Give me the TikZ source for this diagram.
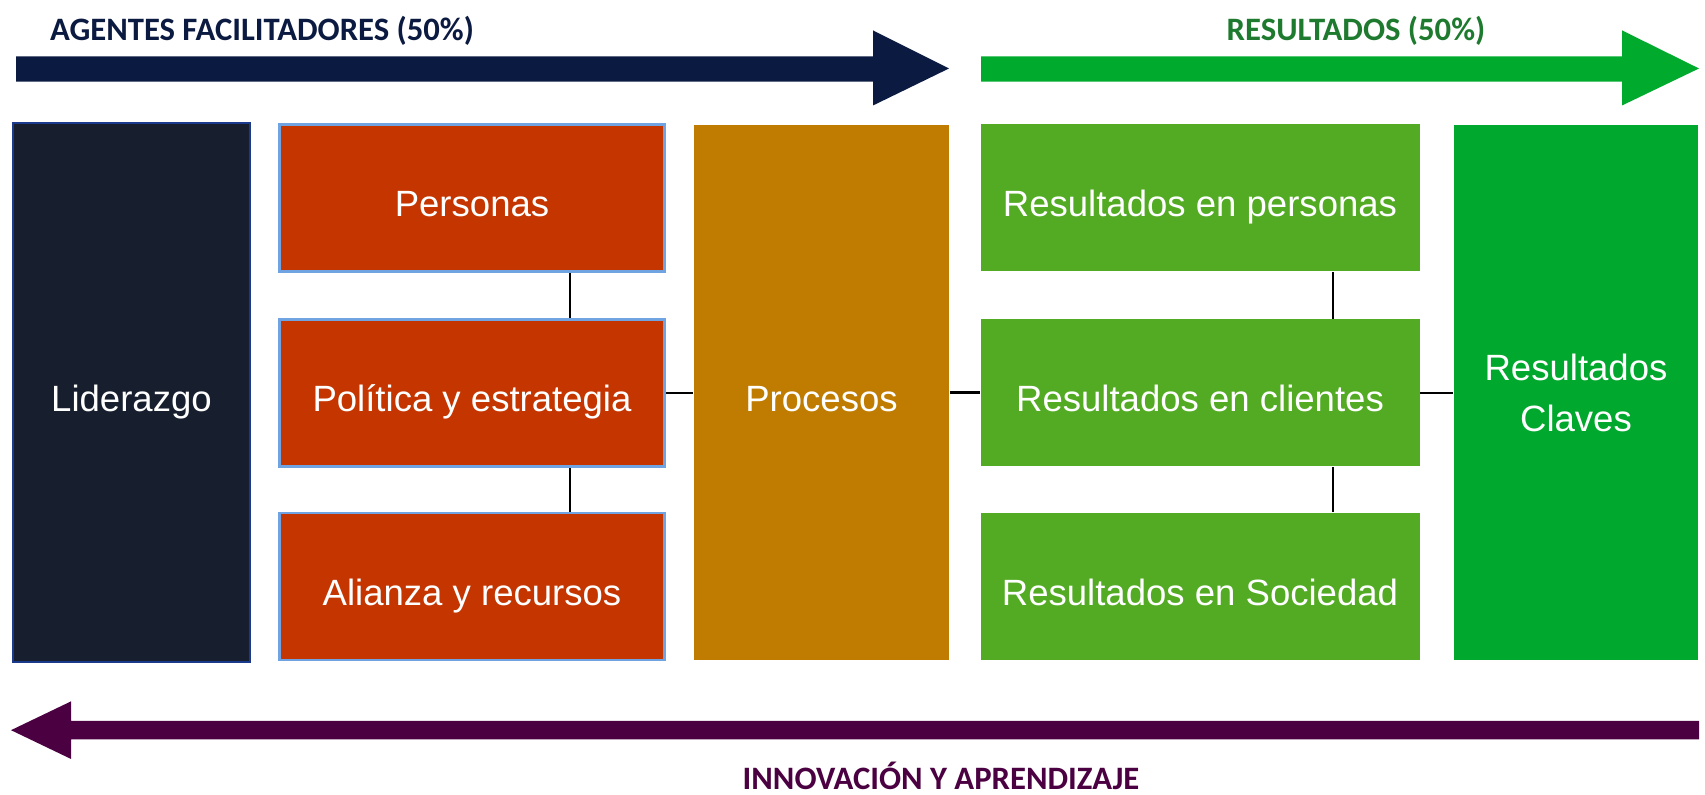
\documentclass[tikz,border=0pt]{standalone}
\usepackage{fontspec}
\setmainfont{Liberation Sans}
\newfontfamily\capfont{Carlito}
\usetikzlibrary{positioning}
\definecolor{navy}{HTML}{0B1A40}
\definecolor{lidfill}{HTML}{171E2E}
\definecolor{lidedge}{HTML}{1B3A8C}
\definecolor{redfill}{HTML}{C43500}
\definecolor{rededge}{HTML}{6FA3E2}
\definecolor{goldfill}{HTML}{BF7C00}
\definecolor{leaffill}{HTML}{52AB22}
\definecolor{keyfill}{HTML}{00A82D}
\definecolor{arrgreen}{HTML}{00AA2C}
\definecolor{txtgreen}{HTML}{1E7A2E}
\definecolor{plum}{HTML}{4B0042}
\begin{document}
\begin{tikzpicture}[every node/.style={rectangle, inner sep=0pt, text=white, font=\fontsize{10.4}{12.5}\selectfont},
    box/.style={minimum width=#1, text height=10.6pt, text depth=0pt},
    row/.style={minimum height=1.47cm},
    col/.style={minimum height=5.35cm},
    caption/.style={font=\capfont\bfseries\fontsize{9.3}{11}\selectfont}]
      \useasboundingbox (0,0) rectangle (17.05,7.95);
      % big arrows
      \fill[navy] (0.16,7.385) -- (8.73,7.385) -- (8.73,7.646) -- (9.49,7.265) -- (8.73,6.895) -- (8.73,7.134) -- (0.16,7.134) -- cycle;
      \fill[arrgreen] (9.81,7.385) -- (16.22,7.385) -- (16.22,7.646) -- (16.99,7.265) -- (16.22,6.895) -- (16.22,7.134) -- (9.81,7.134) -- cycle;
      \fill[plum] (16.99,0.74) -- (0.71,0.74) -- (0.71,0.936) -- (0.11,0.648) -- (0.71,0.36) -- (0.71,0.556) -- (16.99,0.556) -- cycle;
      \node (agentes) at (2.62,7.646) [caption, text=navy] {AGENTES FACILITADORES (50\%)};
      \node (result) at (13.56,7.646) [caption, text=txtgreen] {RESULTADOS (50\%)};
      \node (innov) at (9.41,0.19) [caption, text=plum] {INNOVACIÓN Y APRENDIZAJE};
      % criteria
      \node (lid) at (1.315,4.025) [box=2.37cm, minimum height=5.39cm, fill=lidfill, draw=lidedge, line width=0.6pt] {Liderazgo};
      \node (pers) at (4.72,5.97) [box=3.85cm, row, fill=redfill, draw=rededge, line width=0.8pt] {Personas};
      \node (pol) at (4.72,4.02) [box=3.85cm, row, fill=redfill, draw=rededge, line width=0.8pt] {Política y estrategia};
      \node (ali) at (4.72,2.085) [box=3.85cm, row, fill=redfill, draw=rededge, line width=0.8pt] {Alianza y recursos};
      \node (proc) at (8.215,4.025) [box=2.555cm, col, fill=goldfill] {Procesos};
      \node (rpers) at (12.0,5.97) [box=4.39cm, row, fill=leaffill] {Resultados en personas};
      \node (rcli) at (12.0,4.02) [box=4.39cm, row, fill=leaffill] {Resultados en clientes};
      \node (rsoc) at (12.0,2.085) [box=4.39cm, row, fill=leaffill] {Resultados en Sociedad};
      \node (clave) at (15.76,4.025) [minimum width=2.445cm, col, fill=keyfill, align=center] {Resultados\\[2pt]Claves};
      % connectors
      \foreach \source/\dest in {pers/pol, pol/ali}
        \draw[line width=0.6pt] ([xshift=-0.96cm]\source.south east) -- ([xshift=-0.96cm]\dest.north east);
      \foreach \source/\dest in {rpers/rcli, rcli/rsoc}
        \draw[line width=0.6pt] ([xshift=-0.87cm]\source.south east) -- ([xshift=-0.87cm]\dest.north east);
      \foreach \source/\dest in {pol/proc, proc/rcli, rcli/clave}
        \draw[line width=0.6pt] (\source.east) -- (\source.east -| \dest.west);
    \end{tikzpicture}
\end{document}
